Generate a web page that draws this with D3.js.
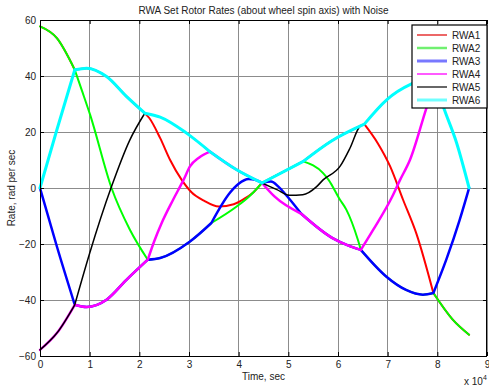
<!DOCTYPE html>
<html>
<head>
<meta charset="utf-8">
<script src="https://cdn.jsdelivr.net/npm/d3@7"></script>
<style>
  html, body { margin: 0; padding: 0; background: #fff; overflow: hidden; }
  svg { display: block; }
  text { font-family: "Liberation Sans", Arial, sans-serif; }
</style>
</head>
<body>
<div id="chart"></div>
<script>
// time in seconds, rate in rad/sec
const timeTicks = [0, 10000, 20000, 30000, 40000, 50000, 60000, 70000, 80000, 90000];
const rateTicks = [-60, -40, -20, 0, 20, 40, 60];
const seriesNames = ["RWA1", "RWA2", "RWA3", "RWA4", "RWA5", "RWA6"];
// times where wheels meet or part (curves have a corner there)
const junctionTimes = [7000, 21100, 21700, 34200, 34500, 44700, 52600, 53000, 64600, 65300, 79200, 79600];

const rwa1 = [[0, 57.7], [3400, 53.5], [7000, 42.2], [9400, 42.8], [13400, 39.8], [17400, 32.7],
    [21100, 26.7], [22000, 25], [24200, 17.8], [26200, 10], [28500, 3], [30500, -1.5], [33000, -4.5],
    [36000, -6.6], [39000, -5.8], [41000, -4], [43000, -1.5], [44700, 1.8], [53000, 9.5], [58700, 16.8],
    [65300, 22.8], [68000, 16], [70500, 7.7], [73100, -4.2], [75800, -16.4], [79200, -37.5],
    [83100, -47], [86400, -52.4]];
const rwa2 = [[0, 57.7], [3400, 53.5], [7000, 42.2], [8500, 34.5], [10100, 26.1], [14400, 0],
    [18100, -14.9], [21700, -25.6], [24200, -25], [30200, -19.1], [34500, -12.5], [39600, -6.6],
    [42000, -3.2], [44700, 1.8], [53000, 9.5], [57000, 5.3], [58100, 2.9], [60400, -4.2], [61700, -7.8],
    [64000, -18.5], [64600, -22.1], [69700, -31.6], [73700, -36.4], [77100, -38.1], [79200, -37.5],
    [83100, -47], [86400, -52.4]];
const rwa3 = [[0, 0], [3400, -20.9], [7000, -41.7], [9400, -42.5], [13400, -39.9], [17400, -32.8],
    [21700, -25.6], [24200, -25], [30200, -19.1], [34500, -12.5], [38200, -1.8], [40000, 1.5],
    [42000, 3.2], [43500, 2.8], [44700, 1.8], [46500, 2.3], [48000, 0.5], [49500, -2.4], [52600, -9.2],
    [58900, -17.9], [62000, -20.5], [64600, -22.1], [69700, -31.6], [73700, -36.4], [77100, -38.1],
    [79200, -37.5], [81800, -25.6], [84500, -11.4], [86400, 0]];
const rwa4 = [[0, -57.8], [3400, -51.8], [7000, -41.7], [9400, -42.5], [13400, -39.9], [17400, -32.8],
    [21700, -25.6], [23000, -19], [24500, -12.5], [26800, -4.2], [28900, 2.9], [30200, 7.7],
    [32000, 10.8], [34200, 13], [39600, 6.5], [44700, 1.8], [47200, -3], [52600, -9.2], [58900, -17.9],
    [62000, -20.5], [64600, -22.1], [67100, -14.9], [70800, -3.5], [72500, 2.9], [74500, 10.1],
    [77900, 29.1], [79600, 38], [83000, 46], [86400, 52.4]];
const rwa5 = [[0, -57.8], [3400, -51.8], [7000, -41.7], [10000, -23.3], [14400, 0.5], [18100, 17.2],
    [21100, 26.7], [24200, 25.3], [29500, 19.6], [34200, 13], [39600, 6.5], [44700, 1.8], [47700, -0.6],
    [50200, -2.6], [52900, -2.4], [55700, 0.5], [57000, 2.9], [60400, 7.7], [62400, 14.2], [64400, 22],
    [65300, 22.8], [69800, 31.5], [74500, 36.9], [77200, 38.6], [79600, 38], [83000, 46], [86400, 52.4]];
const rwa6 = [[0, 0], [3400, 20.8], [7000, 42.2], [9400, 42.8], [13400, 39.8], [17400, 32.7],
    [21100, 26.7], [24200, 25.3], [29500, 19.6], [34200, 13], [39600, 6.5], [44700, 1.8], [53000, 9.5],
    [58700, 16.8], [65300, 22.8], [69800, 31.5], [74500, 36.9], [77200, 38.6], [79600, 38], [81200, 29.1],
    [83900, 16], [86400, 0]];

const seriesData = [rwa1, rwa2, rwa3, rwa4, rwa5, rwa6];
const lineStyles = [
    { color: "#ff0000", width: 2, legendColor: "#e00000", legendWidth: 1.2 },
    { color: "#00ff00", width: 2, legendColor: "#70f070", legendWidth: 2.5 },
    { color: "#0000ff", width: 2.5, legendColor: "#7878ff", legendWidth: 3 },
    { color: "#ff00ff", width: 2.5, legendColor: "#ff00ff", legendWidth: 1.3 },
    { color: "#000000", width: 1.5, legendColor: "#000000", legendWidth: 1.2 },
    { color: "#00ffff", width: 3, legendColor: "#70ffff", legendWidth: 3 }
];

const width = 489;
const height = 387;
const margin = { top: 20, right: 2, bottom: 31, left: 40 };
const innerWidth = width - margin.left - margin.right;
const innerHeight = height - margin.top - margin.bottom;
const tickLen = 4;

const svg = d3.select("#chart")
    .append("svg")
    .attr("width", width)
    .attr("height", height);

const graph = svg.append("g")
    .attr("transform", "translate(" + margin.left + "," + margin.top + ")");

const x = d3.scaleLinear()
    .domain([0, 90000])
    .range([0, innerWidth]);
const y = d3.scaleLinear()
    .domain([-60, 60])
    .range([innerHeight, 0]);

// grid
graph.append("g")
    .selectAll("line")
    .data(timeTicks)
    .join("line")
    .attr("x1", d => x(d)).attr("x2", d => x(d))
    .attr("y1", 0).attr("y2", innerHeight)
    .attr("stroke", "#8c8c8c")
    .attr("stroke-width", 1)
    .attr("shape-rendering", "crispEdges");
graph.append("g")
    .selectAll("line")
    .data(rateTicks)
    .join("line")
    .attr("x1", 0).attr("x2", innerWidth)
    .attr("y1", d => y(d)).attr("y2", d => y(d))
    .attr("stroke", "#8c8c8c")
    .attr("stroke-width", 1)
    .attr("shape-rendering", "crispEdges");

// data lines: smooth pieces between junctions, so shared stretches overlap exactly
const line = d3.line()
    .x(d => x(d[0]))
    .y(d => y(d[1]))
    .curve(d3.curveMonotoneX);

function piecewisePath(points) {
    const pieces = [];
    let current = [];
    points.forEach(p => {
        current.push(p);
        if (junctionTimes.includes(p[0]) && current.length > 1) {
            pieces.push(current);
            current = [p];
        }
    });
    if (current.length > 1) pieces.push(current);
    return pieces.map(piece => line(piece)).join("");
}

// RWA6 drawn last so it is on top
graph.append("g")
    .selectAll("path")
    .data(seriesData)
    .join("path")
    .attr("d", piecewisePath)
    .attr("fill", "none")
    .attr("stroke", (_, i) => lineStyles[i].color)
    .attr("stroke-width", (_, i) => lineStyles[i].width)
    .attr("stroke-linejoin", "round")
    .attr("stroke-linecap", "round");

// axes with inward ticks
function styleAxis(g) {
    g.select(".domain").remove();
    g.selectAll(".tick line").attr("stroke", "#000");
    g.selectAll(".tick text")
        .attr("fill", "#222")
        .style("font-family", "\"Liberation Sans\", Arial, sans-serif")
        .style("font-size", "10px");
}

graph.append("g")
    .attr("transform", "translate(0," + innerHeight + ")")
    .call(d3.axisBottom(x).tickValues(timeTicks).tickFormat(d => d / 10000)
        .tickSize(-tickLen).tickPadding(5))
    .call(styleAxis);
graph.append("g")
    .call(d3.axisTop(x).tickValues(timeTicks).tickSize(-tickLen))
    .call(styleAxis)
    .selectAll(".tick text").remove();
graph.append("g")
    .call(d3.axisLeft(y).tickValues(rateTicks).tickSize(-tickLen).tickPadding(4))
    .call(styleAxis);
graph.append("g")
    .attr("transform", "translate(" + innerWidth + ",0)")
    .call(d3.axisRight(y).tickValues(rateTicks).tickSize(-tickLen))
    .call(styleAxis)
    .selectAll(".tick text").remove();

// box
graph.append("rect")
    .attr("x", 0.5).attr("y", 0.5)
    .attr("width", innerWidth - 1).attr("height", innerHeight)
    .attr("fill", "none")
    .attr("stroke", "#000")
    .attr("stroke-width", 1);

// title and labels
svg.append("text")
    .attr("x", margin.left + innerWidth / 2)
    .attr("y", 14)
    .attr("text-anchor", "middle")
    .attr("font-size", "10px")
    .attr("fill", "#222")
    .text("RWA Set Rotor Rates (about wheel spin axis) with Noise");

svg.append("text")
    .attr("x", margin.left + innerWidth / 2)
    .attr("y", 380)
    .attr("text-anchor", "middle")
    .attr("font-size", "10px")
    .attr("fill", "#222")
    .text("Time, sec");

const expLabel = svg.append("text")
    .attr("x", 464)
    .attr("y", 385)
    .attr("font-size", "10px")
    .attr("fill", "#222");
expLabel.append("tspan").text("x 10");
expLabel.append("tspan")
    .attr("dy", -5)
    .attr("font-size", "7px")
    .text("4");

svg.append("text")
    .attr("transform", "translate(14.5," + (margin.top + innerHeight / 2) + ") rotate(-90)")
    .attr("text-anchor", "middle")
    .attr("font-size", "10px")
    .attr("fill", "#222")
    .text("Rate, rad per sec");

// legend
const legend = svg.append("g")
    .attr("transform", "translate(412,25)");
legend.append("rect")
    .attr("x", 0).attr("y", 0)
    .attr("width", 75).attr("height", 83)
    .attr("fill", "#fff")
    .attr("stroke", "#000")
    .attr("stroke-width", 1.2);
const rows = legend.selectAll("g.row")
    .data(seriesNames)
    .join("g")
    .attr("class", "row")
    .attr("transform", (_, i) => "translate(0," + (10 + i * 13) + ")");
rows.append("line")
    .attr("x1", 5).attr("x2", 35)
    .attr("stroke", (_, i) => lineStyles[i].legendColor)
    .attr("stroke-width", (_, i) => lineStyles[i].legendWidth);
rows.append("text")
    .attr("x", 40)
    .attr("dy", "0.35em")
    .attr("font-size", "10px")
    .attr("fill", "#222")
    .text(d => d);
</script>
</body>
</html>
